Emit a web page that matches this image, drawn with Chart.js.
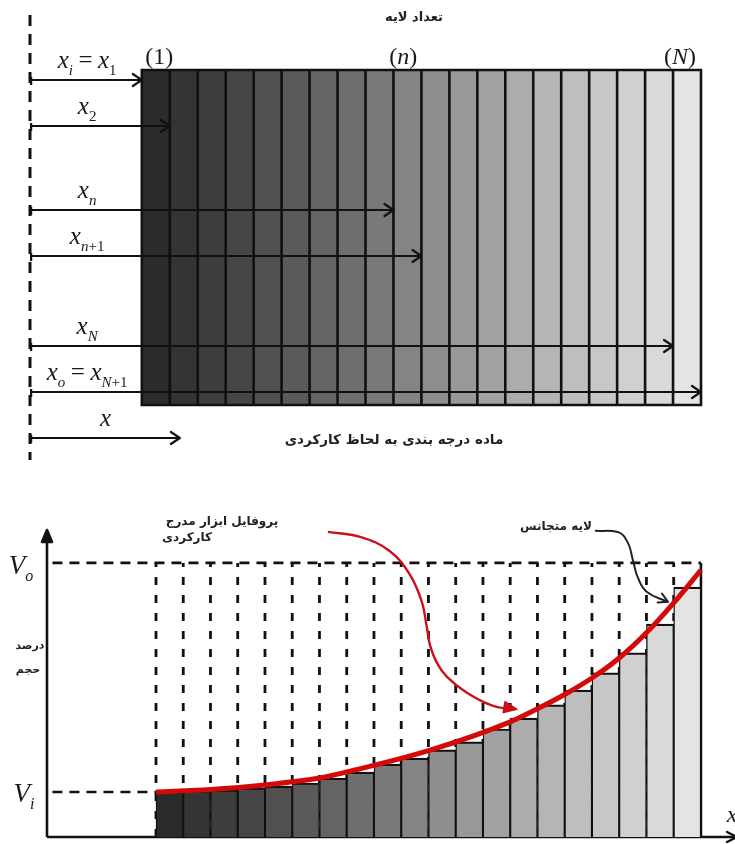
<!DOCTYPE html>
<html><head><meta charset="utf-8">
<script src="https://cdn.jsdelivr.net/npm/chart.js@4/dist/chart.umd.min.js"></script>
<style>
html,body{margin:0;padding:0;background:#fff;width:735px;height:844px;overflow:hidden}
canvas{position:absolute;left:0}
#topChart{top:0}
#botChart{top:470px}
</style></head>
<body>
<canvas id="topChart" width="735" height="470"></canvas>
<canvas id="botChart" width="735" height="374"></canvas>
<script>
// ---------- data: top panel (layered graded material) ----------
const layers = [1,2,3,4,5,6,7,8,9,10,11,12,13,14,15,16,17,18,19,20];
const layerShade = ['#2b2b2b','#343434','#3d3d3d','#464646','#505050','#5a5a5a','#646464','#6e6e6e','#797979','#848484',
                    '#8e8e8e','#989898','#a2a2a2','#acacac','#b5b5b5','#bebebe','#c7c7c7','#d0d0d0','#d9d9d9','#e4e4e4'];
const layerSpan = [5.5, 39.0];                 // thickness range of the layered block (y units)
const layerMarks = ['(1)', '(n)', '(N)'];
const layerMarkAt = [4.62, 13.35, 23.25];
const positionLabels = ['x_i = x_1', 'x_2', 'x_n', 'x_{n+1}', 'x_N', 'x_o = x_{N+1}', 'x'];
const positionEnd = [4, 5, 13, 14, 23, 24, 5.36];   // x coordinate reached by each arrow
const positionRow = [6.5, 11.1, 19.5, 24.1, 33.1, 37.7, 42.3];
const layerTitle = 'تعداد لایه';
const materialTitle = 'ماده درجه بندی به لحاظ کارکردی';

// ---------- data: bottom panel (volume fraction profile) ----------
const Vo = 100, Vi = 16.4;
const volumeLabels = ['V_o', 'V_i'];
const layerVolume = [16.4,16.8,17.2,17.9,18.6,19.7,21.5,23.7,26.6,28.8,31.8,34.7,39.4,43.4,48.2,53.6,59.9,67.2,77.7,91.2];
const profileX = [4, 6, 8, 10, 11, 14, 17, 18, 19, 20, 21, 22, 23, 24];
const profileY = [16.4, 17.3, 19.0, 21.5, 23.7, 31.5, 42.0, 46.8, 52.0, 58.0, 65.3, 74.5, 85.4, 97.4];
const redArrowX = [10.31, 11.49, 12.55, 13.30, 13.75, 13.94, 14.06, 14.31, 14.68, 15.41, 16.37, 17.10];
const redArrowY = [111.3, 109.5, 104.5, 96.0, 86.0, 76.5, 69.8, 63.5, 58.4, 52.6, 47.8, 46.6];
const blackArrowX = [20.11, 20.95, 21.32, 21.50, 21.69, 22.02, 22.79];
const blackArrowY = [111.7, 111.3, 107.3, 101.1, 94.5, 89.4, 85.8];
const profileTitle = ['پروفایل ابزار مدرج', 'کارکردی'];
const homogeneousTitle = 'لایه متجانس';
const axisTitle = ['درصد', 'حجم'];

// ---------- helpers ----------
function drawMath(ctx, str, cx, baseline, size, color) {
  const toks = [];
  for (let i = 0; i < str.length; i++) {
    const c = str[i];
    if (c === '_') {
      let s;
      if (str[i + 1] === '{') { const j = str.indexOf('}', i); s = str.slice(i + 2, j); i = j; }
      else { s = str[i + 1]; i++; }
      for (const ch of s) toks.push({ch, sub: true});
    } else toks.push({ch: c, sub: false});
  }
  const font = t => {
    const sz = t.sub ? Math.round(size * 0.6) : size;
    return (/[A-Za-z]/.test(t.ch) ? 'italic ' : '') + sz + 'px "Liberation Serif", serif';
  };
  ctx.save();
  ctx.direction = 'ltr';
  let w = 0; const ws = [];
  for (const t of toks) {
    ctx.font = font(t);
    const m = t.ch === ' ' ? size * 0.22 : ctx.measureText(t.ch).width;
    ws.push(m); w += m;
  }
  let x = cx - w / 2;
  ctx.textAlign = 'left'; ctx.textBaseline = 'alphabetic';
  ctx.fillStyle = color || '#1a1a1a';
  toks.forEach((t, i) => {
    if (t.ch !== ' ') { ctx.font = font(t); ctx.fillText(t.ch, x, baseline + (t.sub ? size * 0.27 : 0)); }
    x += ws[i];
  });
  ctx.restore();
}
function drawFa(ctx, str, cx, cy, size) {
  ctx.save();
  ctx.direction = 'rtl';
  ctx.font = 'bold ' + size + 'px "DejaVu Sans", sans-serif';
  ctx.textAlign = 'center'; ctx.textBaseline = 'middle';
  ctx.fillStyle = '#222';
  ctx.fillText(str, cx, cy);
  ctx.restore();
}
function chevron(ctx, x, y, ang, len, spread, lw, color, filled) {
  ctx.save();
  ctx.translate(x, y); ctx.rotate(ang);
  ctx.strokeStyle = color; ctx.fillStyle = color; ctx.lineWidth = lw;
  ctx.lineCap = 'round'; ctx.lineJoin = 'round';
  ctx.beginPath();
  ctx.moveTo(-len, -spread); ctx.lineTo(0, 0); ctx.lineTo(-len, spread);
  if (filled) { ctx.closePath(); ctx.fill(); }
  ctx.stroke();
  ctx.restore();
}
function segs(list) { // list of [[x,y],[x,y]] segments -> points with gaps
  const out = [];
  list.forEach(s => { s.forEach(p => out.push({x: p[0], y: p[1]})); out.push({x: s[s.length - 1][0], y: null}); });
  return out;
}
const lineBase = {type: 'line', pointRadius: 0, pointHoverRadius: 0, fill: false, spanGaps: false, clip: false, tension: 0};

// ---------- top chart ----------
const boundarySegs = [];
for (let b = 4; b <= 24; b++) boundarySegs.push([[b, layerSpan[0]], [b, layerSpan[1]]]);
boundarySegs.push([[4, layerSpan[0]], [24, layerSpan[0]]]);
boundarySegs.push([[4, layerSpan[1]], [24, layerSpan[1]]]);
const arrowSegs = positionRow.map((r, i) => [[0.04, r], [positionEnd[i], r]]);

const topPlugin = {
  id: 'topDeco',
  afterDatasetsDraw(chart) {
    const ctx = chart.ctx, xs = chart.scales.x, ys = chart.scales.y;
    positionRow.forEach((r, i) => {
      const y = ys.getPixelForValue(r);
      const x0 = xs.getPixelForValue(0.04), x1 = xs.getPixelForValue(positionEnd[i]);
      chevron(ctx, x1, y, 0, 9, 6, 2.2, '#111', false);
      ctx.save(); ctx.strokeStyle = '#111'; ctx.lineWidth = 2.2;
      ctx.beginPath(); ctx.moveTo(x0, y - 3); ctx.lineTo(x0, y + 5); ctx.stroke(); ctx.restore();
      const cx = i === positionRow.length - 1 ? (x0 + x1) / 2 : x0 + 56;
      drawMath(ctx, positionLabels[i], cx, y - 12, 25);
    });
    const top = ys.getPixelForValue(layerSpan[0]);
    layerMarks.forEach((m, i) => drawMath(ctx, m, xs.getPixelForValue(layerMarkAt[i]), top - 6, 24));
    drawFa(ctx, layerTitle, 414, 18, 13);
    drawFa(ctx, materialTitle, 394, 440, 13.5);
  }
};

new Chart(document.getElementById('topChart'), {
  type: 'bar',
  data: {datasets: [
    Object.assign({}, lineBase, {label: 'arrows', data: segs(arrowSegs), borderColor: '#111', borderWidth: 2.2, order: 0}),
    Object.assign({}, lineBase, {label: 'boundaries', data: segs(boundarySegs), borderColor: '#111', borderWidth: 2.6, borderCapStyle: 'square', order: 1}),
    Object.assign({}, lineBase, {label: 'origin', data: [{x: 0, y: 0}, {x: 0, y: 44.5}], borderColor: '#111', borderWidth: 3, borderDash: [11, 8], order: 2}),
    {type: 'bar', label: 'layers', data: layers.map(k => ({x: 3.5 + k, y: layerSpan})), backgroundColor: layerShade,
     borderWidth: 0, barPercentage: 1, categoryPercentage: 1, order: 3}
  ]},
  options: {
    responsive: false, animation: false, events: [],
    layout: {padding: {left: 30, right: 34, top: 15, bottom: 10}},
    plugins: {legend: {display: false}, tooltip: {enabled: false}},
    scales: {
      x: {type: 'linear', min: 0, max: 24, offset: false, display: false},
      y: {type: 'linear', min: 0, max: 44.5, reverse: true, display: false}
    }
  },
  plugins: [topPlugin]
});

// ---------- bottom chart ----------
const gridSegs = [];
for (let b = 4; b <= 23; b++) gridSegs.push([[b, 0], [b, Vo]]);
const levelSegs = [[[0.2, Vo], [24, Vo]], [[0.2, Vi], [4, Vi]]];

const botPlugin = {
  id: 'botDeco',
  beforeDatasetsDraw(chart) {
    const ctx = chart.ctx, a = chart.chartArea;
    ctx.save(); ctx.strokeStyle = '#111'; ctx.lineWidth = 2.6;
    ctx.beginPath(); ctx.moveTo(a.left, a.bottom); ctx.lineTo(a.left, a.top + 1); ctx.stroke();
    ctx.beginPath(); ctx.moveTo(a.left, a.bottom); ctx.lineTo(a.right, a.bottom); ctx.stroke();
    ctx.restore();
  },
  afterDatasetsDraw(chart) {
    const ctx = chart.ctx, xs = chart.scales.x, ys = chart.scales.y, a = chart.chartArea;
    chevron(ctx, a.left, a.top, -Math.PI / 2, 12, 5, 2.6, '#111', true);
    chevron(ctx, a.right + 2, a.bottom, 0, 10, 5, 2.4, '#111', false);
    drawMath(ctx, 'x', a.right - 3, a.bottom - 15, 24);
    drawMath(ctx, volumeLabels[0], 21, ys.getPixelForValue(Vo) + 11, 27);
    drawMath(ctx, volumeLabels[1], 24, ys.getPixelForValue(Vi) + 10, 27);
    // arrowheads of the annotation curves
    const n = redArrowX.length;
    const rx1 = xs.getPixelForValue(redArrowX[n - 1]), ry1 = ys.getPixelForValue(redArrowY[n - 1]);
    const rx0 = xs.getPixelForValue(redArrowX[n - 2]), ry0 = ys.getPixelForValue(redArrowY[n - 2]);
    chevron(ctx, rx1 + 4, ry1, Math.atan2(ry1 - ry0, rx1 - rx0), 13, 5.5, 1.5, '#c8101e', true);
    const m = blackArrowX.length;
    const bx1 = xs.getPixelForValue(blackArrowX[m - 1]), by1 = ys.getPixelForValue(blackArrowY[m - 1]);
    const bx0 = xs.getPixelForValue(blackArrowX[m - 2]), by0 = ys.getPixelForValue(blackArrowY[m - 2]);
    chevron(ctx, bx1, by1, Math.atan2(by1 - by0, bx1 - bx0), 9, 5, 2, '#222', false);
    // texts
    drawFa(ctx, profileTitle[0], 222, 52, 12);
    drawFa(ctx, profileTitle[1], 187, 68, 12);
    drawFa(ctx, homogeneousTitle, 556, 57, 12);
    drawFa(ctx, axisTitle[0], 30, 176, 11);
    drawFa(ctx, axisTitle[1], 28, 200, 11);
  }
};

new Chart(document.getElementById('botChart'), {
  type: 'bar',
  data: {datasets: [
    Object.assign({}, lineBase, {label: 'profile', data: profileX.map((x, i) => ({x, y: profileY[i]})),
      borderColor: '#d40a0a', borderWidth: 5, tension: 0.4, cubicInterpolationMode: 'monotone', order: 0}),
    Object.assign({}, lineBase, {label: 'redArrow', data: redArrowX.map((x, i) => ({x, y: redArrowY[i]})),
      borderColor: '#c8101e', borderWidth: 2.4, tension: 0.4, order: 0}),
    Object.assign({}, lineBase, {label: 'blackArrow', data: blackArrowX.map((x, i) => ({x, y: blackArrowY[i]})),
      borderColor: '#222', borderWidth: 2, tension: 0.45, order: 0}),
    {type: 'bar', label: 'layerVolume', data: layers.map((k, i) => ({x: 3.5 + k, y: layerVolume[i]})),
     backgroundColor: layerShade, borderColor: '#111', borderSkipped: 'bottom',
     borderWidth: {left: 1.4, right: 1.4, top: 2.2, bottom: 0},
     barPercentage: 1, categoryPercentage: 1, order: 3},
    Object.assign({}, lineBase, {label: 'edge', data: [{x: 24, y: 0}, {x: 24, y: Vo}], borderColor: '#111', borderWidth: 2.6, order: 4}),
    Object.assign({}, lineBase, {label: 'grid', data: segs(gridSegs), borderColor: '#111', borderWidth: 2.8, borderDash: [8, 10], order: 5}),
    Object.assign({}, lineBase, {label: 'levels', data: segs(levelSegs), borderColor: '#111', borderWidth: 2.6, borderDash: [10, 7], order: 5})
  ]},
  options: {
    responsive: false, animation: false, events: [],
    layout: {padding: {left: 47, right: 0, top: 60, bottom: 7}},
    plugins: {legend: {display: false}, tooltip: {enabled: false}},
    scales: {
      x: {type: 'linear', min: 0, max: 25.25, offset: false, display: false},
      y: {type: 'linear', min: 0, max: 112, display: false}
    }
  },
  plugins: [botPlugin]
});
</script>
</body></html>
